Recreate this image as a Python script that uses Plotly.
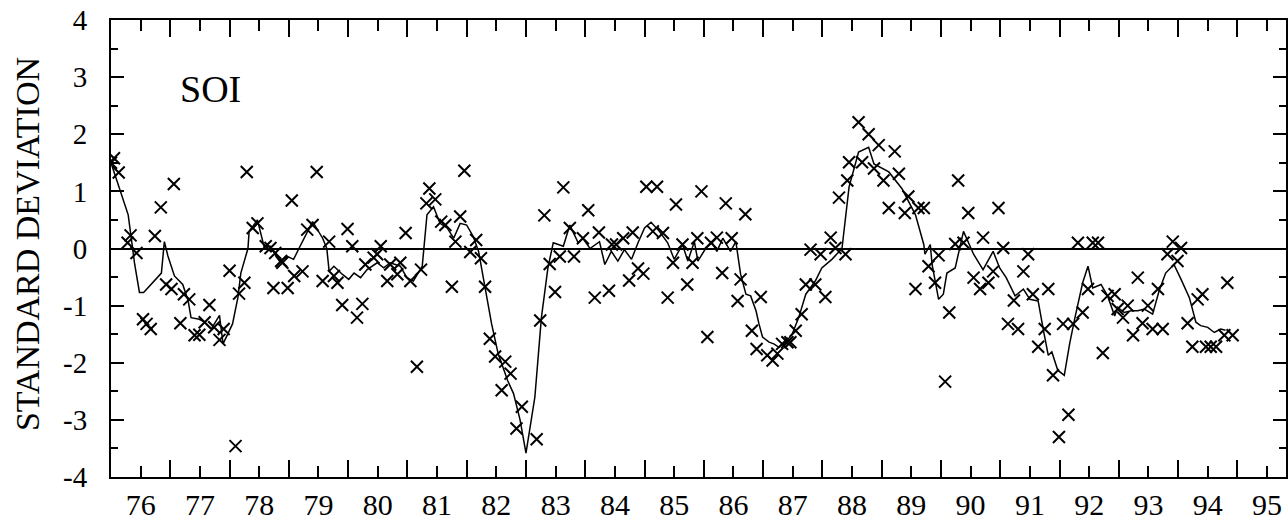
import plotly.graph_objects as go

# Monthly SOI values (crosses), decimal year and standard deviations
cross_year = [
    1976.00, 1976.05, 1976.13, 1976.28, 1976.33, 1976.43, 1976.54, 1976.60, 1976.67, 1976.74,
    1976.84, 1976.93, 1977.02, 1977.06, 1977.17, 1977.23, 1977.32, 1977.41, 1977.49, 1977.58,
    1977.66, 1977.74, 1977.83, 1977.90, 1978.00, 1978.10, 1978.16, 1978.25, 1978.29, 1978.39,
    1978.47, 1978.61, 1978.69, 1978.74, 1978.77, 1978.87, 1978.89, 1978.98, 1979.05, 1979.09,
    1979.23, 1979.31, 1979.40, 1979.47, 1979.57, 1979.68, 1979.76, 1979.82, 1979.90, 1979.99,
    1980.07, 1980.15, 1980.24, 1980.29, 1980.43, 1980.49, 1980.55, 1980.66, 1980.71, 1980.83,
    1980.88, 1980.97, 1981.05, 1981.16, 1981.23, 1981.32, 1981.37, 1981.47, 1981.57, 1981.64,
    1981.75, 1981.81, 1981.89, 1981.96, 1982.06, 1982.16, 1982.24, 1982.31, 1982.39, 1982.48,
    1982.59, 1982.65, 1982.74, 1982.84, 1982.93, 1983.18, 1983.24, 1983.31, 1983.40, 1983.49,
    1983.57, 1983.63, 1983.74, 1983.81, 1983.96, 1984.05, 1984.16, 1984.23, 1984.40, 1984.45,
    1984.52, 1984.64, 1984.74, 1984.80, 1984.89, 1984.98, 1985.03, 1985.14, 1985.21, 1985.31,
    1985.39, 1985.48, 1985.53, 1985.64, 1985.72, 1985.81, 1985.89, 1985.96, 1986.06, 1986.12,
    1986.22, 1986.31, 1986.37, 1986.47, 1986.57, 1986.62, 1986.70, 1986.81, 1986.89, 1986.96,
    1987.07, 1987.16, 1987.24, 1987.32, 1987.41, 1987.46, 1987.55, 1987.65, 1987.72, 1987.80,
    1987.88, 1987.97, 1988.05, 1988.14, 1988.22, 1988.28, 1988.39, 1988.42, 1988.45, 1988.61,
    1988.67, 1988.78, 1988.87, 1988.95, 1989.03, 1989.12, 1989.22, 1989.29, 1989.39, 1989.45,
    1989.57, 1989.62, 1989.71, 1989.79, 1989.90, 1989.96, 1990.07, 1990.14, 1990.24, 1990.29,
    1990.38, 1990.46, 1990.55, 1990.66, 1990.71, 1990.80, 1990.88, 1990.97, 1991.05, 1991.13,
    1991.23, 1991.30, 1991.39, 1991.47, 1991.55, 1991.64, 1991.75, 1991.81, 1991.89, 1991.99,
    1992.06, 1992.15, 1992.23, 1992.31, 1992.39, 1992.48, 1992.56, 1992.65, 1992.73, 1992.81,
    1992.93, 1992.98, 1993.07, 1993.15, 1993.24, 1993.32, 1993.40, 1993.49, 1993.57, 1993.66,
    1993.74, 1993.82, 1993.91, 1993.99, 1994.05, 1994.16, 1994.24, 1994.33, 1994.41, 1994.47,
    1994.55, 1994.64, 1994.78, 1994.83, 1994.92,
]
cross_value = [
    1.50, 1.58, 1.33, 0.10, 0.23, -0.08, -1.24, -1.32, -1.41, 0.22,
    0.72, -0.63, -0.71, 1.13, -1.31, -0.80, -0.89, -1.52, -1.51, -1.29,
    -0.99, -1.38, -1.60, -1.41, -0.39, -3.46, -0.79, -0.60, 1.34, 0.36,
    0.44, 0.04, 0.01, -0.69, -0.08, -0.22, -0.25, -0.69, 0.84, -0.48,
    -0.40, 0.33, 0.41, 1.34, -0.57, 0.12, -0.48, -0.60, -0.99, 0.34,
    0.04, -1.21, -0.97, -0.28, -0.16, -0.10, 0.04, -0.57, -0.28, -0.45,
    -0.25, 0.27, -0.57, -2.07, -0.37, 0.79, 1.05, 0.86, 0.47, 0.41,
    -0.67, 0.12, 0.56, 1.36, -0.06, 0.15, -0.17, -0.67, -1.58, -1.89,
    -2.48, -1.98, -2.19, -3.15, -2.77, -3.34, -1.26, 0.58, -0.27, -0.76,
    -0.14, 1.07, 0.36, -0.14, 0.18, 0.67, -0.86, 0.28, -0.74, 0.07,
    0.07, 0.18, -0.56, 0.28, -0.35, -0.44, 1.08, 0.30, 1.08, 0.27,
    -0.86, -0.25, 0.77, 0.07, -0.63, -0.25, 0.18, 1.00, -1.55, 0.10,
    0.19, -0.43, 0.79, 0.18, -0.92, -0.54, 0.60, -1.44, -1.76, -0.85,
    -1.87, -1.96, -1.84, -1.67, -1.64, -1.64, -1.44, -1.15, -0.63, -0.02,
    -0.63, -0.10, -0.85, 0.19, 0.01, 0.89, -0.10, 1.19, 1.51, 2.21,
    1.51, 2.00, 1.40, 1.81, 1.19, 0.71, 1.70, 1.31, 0.62, 0.91,
    -0.71, 0.71, 0.71, -0.31, -0.60, -0.12, -2.33, -1.12, 0.08, 1.19,
    0.10, 0.62, -0.51, -0.71, 0.19, -0.60, -0.40, 0.71, 0.01, -1.32,
    -0.91, -1.41, -0.40, -0.10, -0.80, -1.72, -1.41, -0.71, -2.22, -3.30,
    -1.32, -2.91, -1.32, 0.10, -1.12, -0.71, 0.10, 0.10, -1.83, -0.83,
    -0.80, -1.06, -1.21, -1.00, -1.52, -0.51, -1.31, -1.00, -1.41, -0.71,
    -1.41, -0.10, 0.12, -0.22, 0.01, -1.31, -1.72, -0.89, -0.80, -1.72,
    -1.72, -1.72, -1.52, -0.60, -1.52,
]

# Smoothed SOI (solid line)
line_year = [
    1976.00, 1976.29, 1976.40, 1976.48, 1976.55, 1976.85, 1976.90, 1976.96, 1977.07, 1977.21,
    1977.30, 1977.35, 1977.49, 1977.58, 1977.69, 1977.83, 1977.89, 1978.05, 1978.14, 1978.19,
    1978.31, 1978.33, 1978.47, 1978.58, 1978.69, 1978.84, 1978.98, 1979.08, 1979.17, 1979.31,
    1979.40, 1979.57, 1979.64, 1979.68, 1979.76, 1979.90, 1980.01, 1980.10, 1980.21, 1980.32,
    1980.49, 1980.60, 1980.71, 1980.88, 1980.99, 1981.10, 1981.25, 1981.33, 1981.44, 1981.55,
    1981.67, 1981.78, 1981.89, 1982.00, 1982.11, 1982.20, 1982.23, 1982.31, 1982.42, 1982.53,
    1982.69, 1982.79, 1982.90, 1983.00, 1983.15, 1983.26, 1983.37, 1983.46, 1983.63, 1983.74,
    1983.88, 1983.96, 1984.08, 1984.24, 1984.33, 1984.44, 1984.55, 1984.66, 1984.78, 1984.89,
    1985.00, 1985.11, 1985.25, 1985.39, 1985.50, 1985.64, 1985.73, 1985.84, 1985.90, 1986.03,
    1986.14, 1986.22, 1986.32, 1986.45, 1986.54, 1986.62, 1986.71, 1986.79, 1986.88, 1986.93,
    1986.99, 1987.10, 1987.18, 1987.27, 1987.38, 1987.49, 1987.60, 1987.72, 1987.88, 1987.99,
    1988.16, 1988.33, 1988.45, 1988.61, 1988.78, 1988.87, 1989.12, 1989.34, 1989.57, 1989.71,
    1989.73, 1989.82, 1989.85, 1989.96, 1990.04, 1990.10, 1990.24, 1990.38, 1990.55, 1990.71,
    1990.88, 1990.99, 1991.10, 1991.25, 1991.39, 1991.50, 1991.64, 1991.73, 1991.81, 1991.87,
    1991.97, 1992.08, 1992.17, 1992.26, 1992.39, 1992.48, 1992.56, 1992.70, 1992.81, 1992.93,
    1992.98, 1993.09, 1993.21, 1993.32, 1993.43, 1993.57, 1993.68, 1993.79, 1993.93, 1994.05,
    1994.19, 1994.30, 1994.38, 1994.50, 1994.61, 1994.72, 1994.80,
]
line_value = [
    1.50, 0.59, -0.28, -0.77, -0.77, -0.43, 0.12, -0.13, -0.48, -0.63,
    -0.91, -1.21, -1.24, -1.29, -1.41, -1.17, -1.67, -1.32, -0.86, -0.43,
    0.00, 0.30, 0.50, 0.04, 0.04, -0.22, -0.14, -0.19, 0.00, 0.30,
    0.47, 0.18, 0.00, -0.40, -0.31, -0.45, -0.54, -0.43, -0.51, -0.37,
    -0.25, -0.34, -0.25, -0.31, -0.51, -0.57, -0.31, 0.59, 0.73, 0.44,
    0.36, 0.18, 0.44, 0.41, 0.21, -0.05, -0.22, -0.69, -1.32, -1.84,
    -2.31, -2.54, -3.00, -3.58, -2.60, -1.21, -0.34, 0.10, 0.04, 0.41,
    0.10, 0.18, 0.00, 0.12, -0.28, -0.05, -0.22, -0.02, -0.19, 0.10,
    0.36, 0.46, 0.30, 0.10, -0.19, 0.07, -0.22, 0.12, -0.22, 0.00,
    0.10, -0.05, 0.18, -0.05, 0.12, -0.45, -0.80, -0.83, -1.09, -1.32,
    -1.55, -1.64, -1.67, -1.73, -1.64, -1.50, -1.21, -0.80, -0.57, -0.34,
    -0.19, 0.00, 1.08, 1.69, 1.77, 1.48, 1.34, 1.05, 0.59, 0.07,
    -0.10, 0.07, -0.28, -0.89, -0.80, -0.43, -0.34, 0.30, -0.10, -0.37,
    -0.05, -0.34, -0.51, -0.83, -0.71, -0.89, -0.92, -1.44, -1.87, -1.81,
    -2.13, -2.22, -1.67, -1.21, -0.60, -0.31, -0.69, -0.63, -0.83, -1.18,
    -1.03, -1.12, -1.09, -1.09, -1.06, -1.15, -0.74, -0.43, -0.28, -0.54,
    -0.86, -1.29, -1.35, -1.38, -1.47, -1.41, -1.43,
]

# Axis labels
year_labels = ["76", "77", "78", "79", "80", "81", "82", "83", "84", "85",
               "86", "87", "88", "89", "90", "91", "92", "93", "94", "95"]
label_pos = [1976.5 + i for i in range(len(year_labels))]
year_bounds = [1977 + i for i in range(19)]
y_ticks = [4, 3, 2, 1, 0, -1, -2, -3, -4]
y_text = ["4", "3", "2", "1", "0", "-1", "-2", "-3", "-4"]
y_half = [3.5, 2.5, 1.5, 0.5, -0.5, -1.5, -2.5, -3.5]

SERIF = "serif"

fig = go.Figure()
fig.add_trace(go.Scatter(
    x=line_year, y=line_value, mode="lines",
    line=dict(color="black", width=1.5), hoverinfo="skip", showlegend=False,
))
fig.add_trace(go.Scatter(
    x=cross_year, y=cross_value, mode="markers",
    marker=dict(symbol="x-thin", size=12, color="black",
                line=dict(color="black", width=2)),
    showlegend=False,
))

fig.add_annotation(x=1977.13, y=2.79, xref="x", yref="y", text="SOI",
                   showarrow=False, xanchor="left", yanchor="middle",
                   font=dict(family=SERIF, size=38, color="black"))
fig.add_annotation(x=-0.0705, y=0.51, xref="paper", yref="paper",
                   text="STANDARD DEVIATION", textangle=-90, showarrow=False,
                   xanchor="center", yanchor="middle",
                   font=dict(family=SERIF, size=34, color="black"))

fig.update_layout(
    width=1288, height=521,
    margin=dict(l=111, r=0, t=20, b=40),
    paper_bgcolor="white", plot_bgcolor="white",
    font=dict(family=SERIF, color="black"),
    xaxis=dict(
        range=[1976.0, 1995.82], showgrid=False, zeroline=False,
        showline=True, linecolor="black", linewidth=2, mirror="ticks",
        tickmode="array", tickvals=label_pos, ticktext=year_labels,
        ticks="inside", ticklen=11, tickwidth=2, tickcolor="black",
        ticklabelstandoff=0,
        tickfont=dict(family=SERIF, size=30, color="black"),
        minor=dict(tickmode="array", tickvals=year_bounds, ticks="inside",
                   ticklen=17, tickwidth=2, tickcolor="black", showgrid=False),
    ),
    yaxis=dict(
        range=[-4, 4], showgrid=False,
        zeroline=True, zerolinecolor="black", zerolinewidth=1.5,
        showline=True, linecolor="black", linewidth=2, mirror="ticks",
        tickmode="array", tickvals=y_ticks, ticktext=y_text,
        ticks="inside", ticklen=13, tickwidth=2, tickcolor="black",
        ticklabelstandoff=16,
        tickfont=dict(family=SERIF, size=29, color="black"),
        minor=dict(tickmode="array", tickvals=y_half, ticks="inside",
                   ticklen=7, tickwidth=2, tickcolor="black", showgrid=False),
    ),
)

fig.write_html("out.html", config={"displayModeBar": False},
               post_script="document.body.style.margin='0px';")
